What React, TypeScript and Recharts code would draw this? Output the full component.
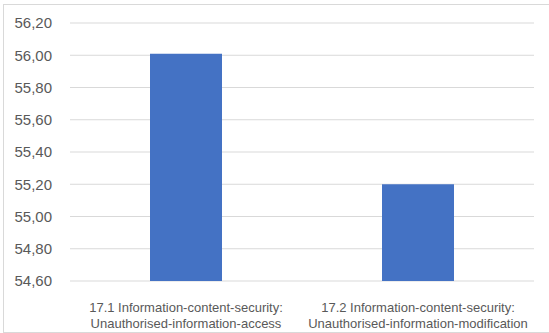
import React from 'react';
import { BarChart, Bar, XAxis, YAxis, CartesianGrid } from 'recharts';

const categories = [
  '17.1 Information-content-security:\nUnauthorised-information-access',
  '17.2 Information-content-security:\nUnauthorised-information-modification',
];
const values = [56.01, 55.2];
const yTicks = [54.6, 54.8, 55.0, 55.2, 55.4, 55.6, 55.8, 56.0, 56.2];

const data = categories.map((c, i) => ({ name: c, value: values[i] }));

const FONT = '"Liberation Sans", "Open Sans", sans-serif';
const XFONT = '"Liberation Sans Narrow", "Liberation Sans", sans-serif';

const XTick = (props: any) => {
  const { x, y, payload } = props;
  const lines = String(payload.value).split('\n');
  return (
    <g>
      {lines.map((l: string, i: number) => (
        <text
          key={i}
          x={x}
          y={y + 23 + i * 16}
          textAnchor="middle"
          fill="#595959"
          fontSize={13}
          fontFamily={XFONT}
        >
          {l}
        </text>
      ))}
    </g>
  );
};

export default function App() {
  return (
    <div style={{ position: 'absolute', left: 0, top: 0, width: 549, height: 333, background: '#fff' }}>
      <div
        style={{
          position: 'absolute',
          left: 3,
          top: 4,
          width: 545,
          height: 327,
          border: '1px solid #d9d9d9',
        }}
      />
      <div style={{ position: 'absolute', left: 0, top: 0 }}>
        <BarChart
          width={549}
          height={333}
          data={data}
          margin={{ top: 23, right: 15, bottom: 0, left: 10 }}
          barSize={72}
        >
          <CartesianGrid vertical={false} stroke="#d9d9d9" strokeWidth={1} />
          <XAxis
            dataKey="name"
            axisLine={false}
            tickLine={false}
            height={52}
            interval={0}
            tick={<XTick />}
          />
          <YAxis
            domain={[54.6, 56.2]}
            ticks={yTicks}
            interval={0}
            axisLine={false}
            tickLine={false}
            width={60}
            tickMargin={12}
            tick={{ fill: '#595959', fontSize: 15, fontFamily: FONT }}
            tickFormatter={(v: number) => v.toFixed(2).replace('.', ',')}
          />
          <Bar dataKey="value" fill="#4472C4" isAnimationActive={false} />
        </BarChart>
      </div>
    </div>
  );
}
